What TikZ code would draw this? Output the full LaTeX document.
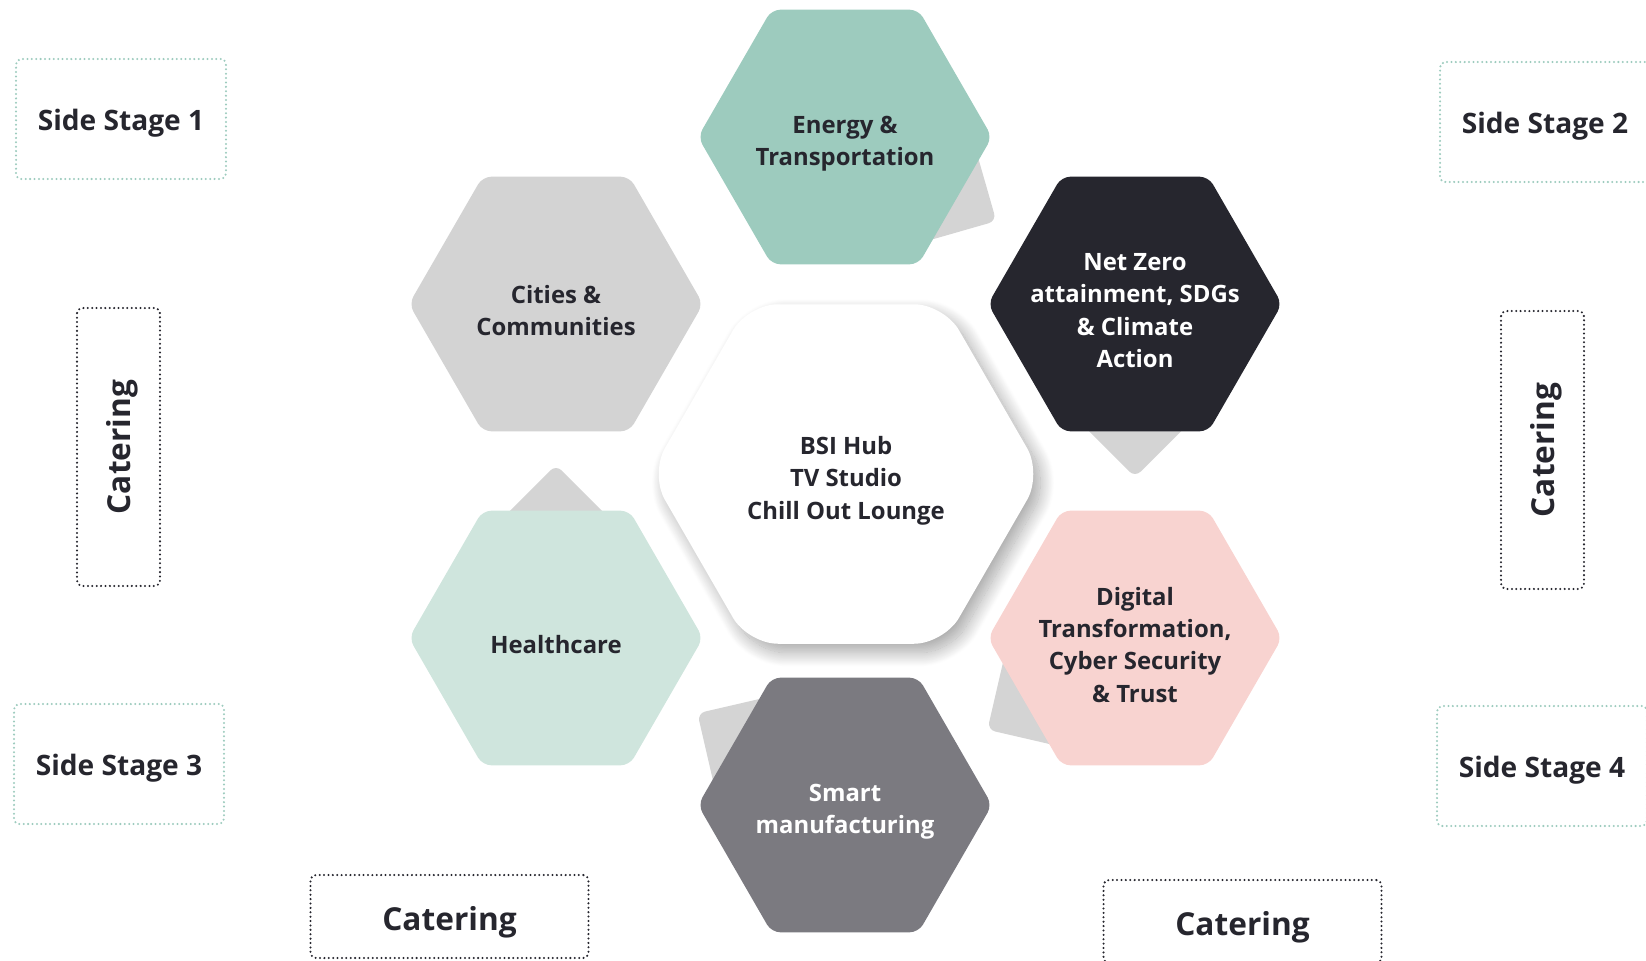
\documentclass[tikz,border=0pt]{standalone}
\usepackage{fontspec}
\setmainfont{Open Sans}
\usetikzlibrary{shadows.blur}

\definecolor{ink}{HTML}{26262E}
\definecolor{energygreen}{HTML}{9DCBBE}
\definecolor{healthgreen}{HTML}{CFE5DD}
\definecolor{citygray}{HTML}{D3D3D3}
\definecolor{digitalpink}{HTML}{F8D3D0}
\definecolor{smartgray}{HTML}{7B7A80}
\definecolor{backgray}{HTML}{D4D4D4}

% flat-topped hexagon: style, centre, radius
\newcommand{\hexcell}[3]{%
  \fill[#1] (#2) ++(0:#3) -- ++(120:#3) -- ++(180:#3) -- ++(240:#3)
    -- ++(300:#3) -- ++(0:#3) -- cycle;}

\begin{document}
\begin{tikzpicture}[x=0.02cm,y=-0.02cm,
  hextext/.style={font=\bfseries\fontsize{13.6}{18.4}\selectfont,text=ink,
    align=center,yshift=-3.8pt},
  stage/.style={draw=energygreen,line width=1.3pt,dash pattern=on 0pt off 2.5pt,
    line cap=round,rounded corners=3pt,minimum width=4.2cm,minimum height=2.4cm,
    font=\bfseries\fontsize{16}{19}\selectfont,text=ink,
    text height=12.6pt,text depth=0pt},
  catering/.style={stage,draw=ink,minimum width=5.56cm,minimum height=1.66cm,
    font=\bfseries\fontsize{18}{21}\selectfont,text height=15.6pt},
  backsq/.style={fill=backgray,rounded corners=4.5pt}]
  \useasboundingbox (0,0) rectangle (1646,960);

  \coordinate (hubc) at (846,474);
  \coordinate (energyc) at (845,137);
  \coordinate (citiesc) at (556,304);
  \coordinate (netzeroc) at (1135,304);
  \coordinate (healthc) at (556,638);
  \coordinate (digitalc) at (1135,638);
  \coordinate (smartc) at (845,805);

  % centre cell with its soft shadow
  \hexcell{white,rounded corners=17pt,blur shadow={shadow xshift=4pt,
    shadow yshift=-5pt,shadow blur radius=8pt,shadow blur steps=25,
    shadow opacity=35}}{hubc}{196}

  % tilted squares peeking out behind the cells
  \fill[backsq,shift={(906,171)},rotate=16] (-73,-73) rectangle (73,73);
  \fill[backsq,shift={(1135,374)},rotate=45] (-73,-73) rectangle (73,73);
  \fill[backsq,shift={(556,568)},rotate=45] (-73,-73) rectangle (73,73);
  \fill[backsq,shift={(785,768)},rotate=13] (-73,-73) rectangle (73,73);
  \fill[backsq,shift={(1075,675)},rotate=-13] (-73,-73) rectangle (73,73);

  \hexcell{energygreen,rounded corners=5pt}{energyc}{147}
  \hexcell{citygray,rounded corners=5pt}{citiesc}{147}
  \hexcell{ink,rounded corners=5pt}{netzeroc}{147}
  \hexcell{healthgreen,rounded corners=5pt}{healthc}{147}
  \hexcell{digitalpink,rounded corners=5pt}{digitalc}{147}
  \hexcell{smartgray,rounded corners=5pt}{smartc}{147}

  \node[hextext] (hub) at (hubc) {BSI Hub\\TV Studio\\Chill Out Lounge};
  \node[hextext] (energy) at (energyc) {Energy \&\\Transportation};
  \node[hextext] (cities) at (citiesc) {Cities \&\\Communities};
  \node[hextext,text=white] (netzero) at (netzeroc) {Net Zero\\attainment, SDGs\\\& Climate\\Action};
  \node[hextext] (health) at (healthc) {Healthcare};
  \node[hextext] (digital) at (digitalc) {Digital\\Transformation,\\Cyber Security\\\& Trust};
  \node[hextext,text=white] (smart) at (smartc) {Smart\\manufacturing};

  % side stages
  \node[stage] (stage1) at (121,119) {Side Stage 1};
  \node[stage] (stage2) at (1545,122) {Side Stage 2};
  \node[stage] (stage3) at (119,764) {Side Stage 3};
  \node[stage] (stage4) at (1542,766) {Side Stage 4};

  % catering points
  \node[catering,rotate=90,text height=13.4pt] (cat1) at (118.5,447) {Catering};
  \node[catering,rotate=90,text height=13.4pt] (cat2) at (1542.5,450) {Catering};
  \node[catering] (cat3) at (449.5,916.5) {Catering};
  \node[catering] (cat4) at (1242.5,921.5) {Catering};
\end{tikzpicture}
\end{document}
